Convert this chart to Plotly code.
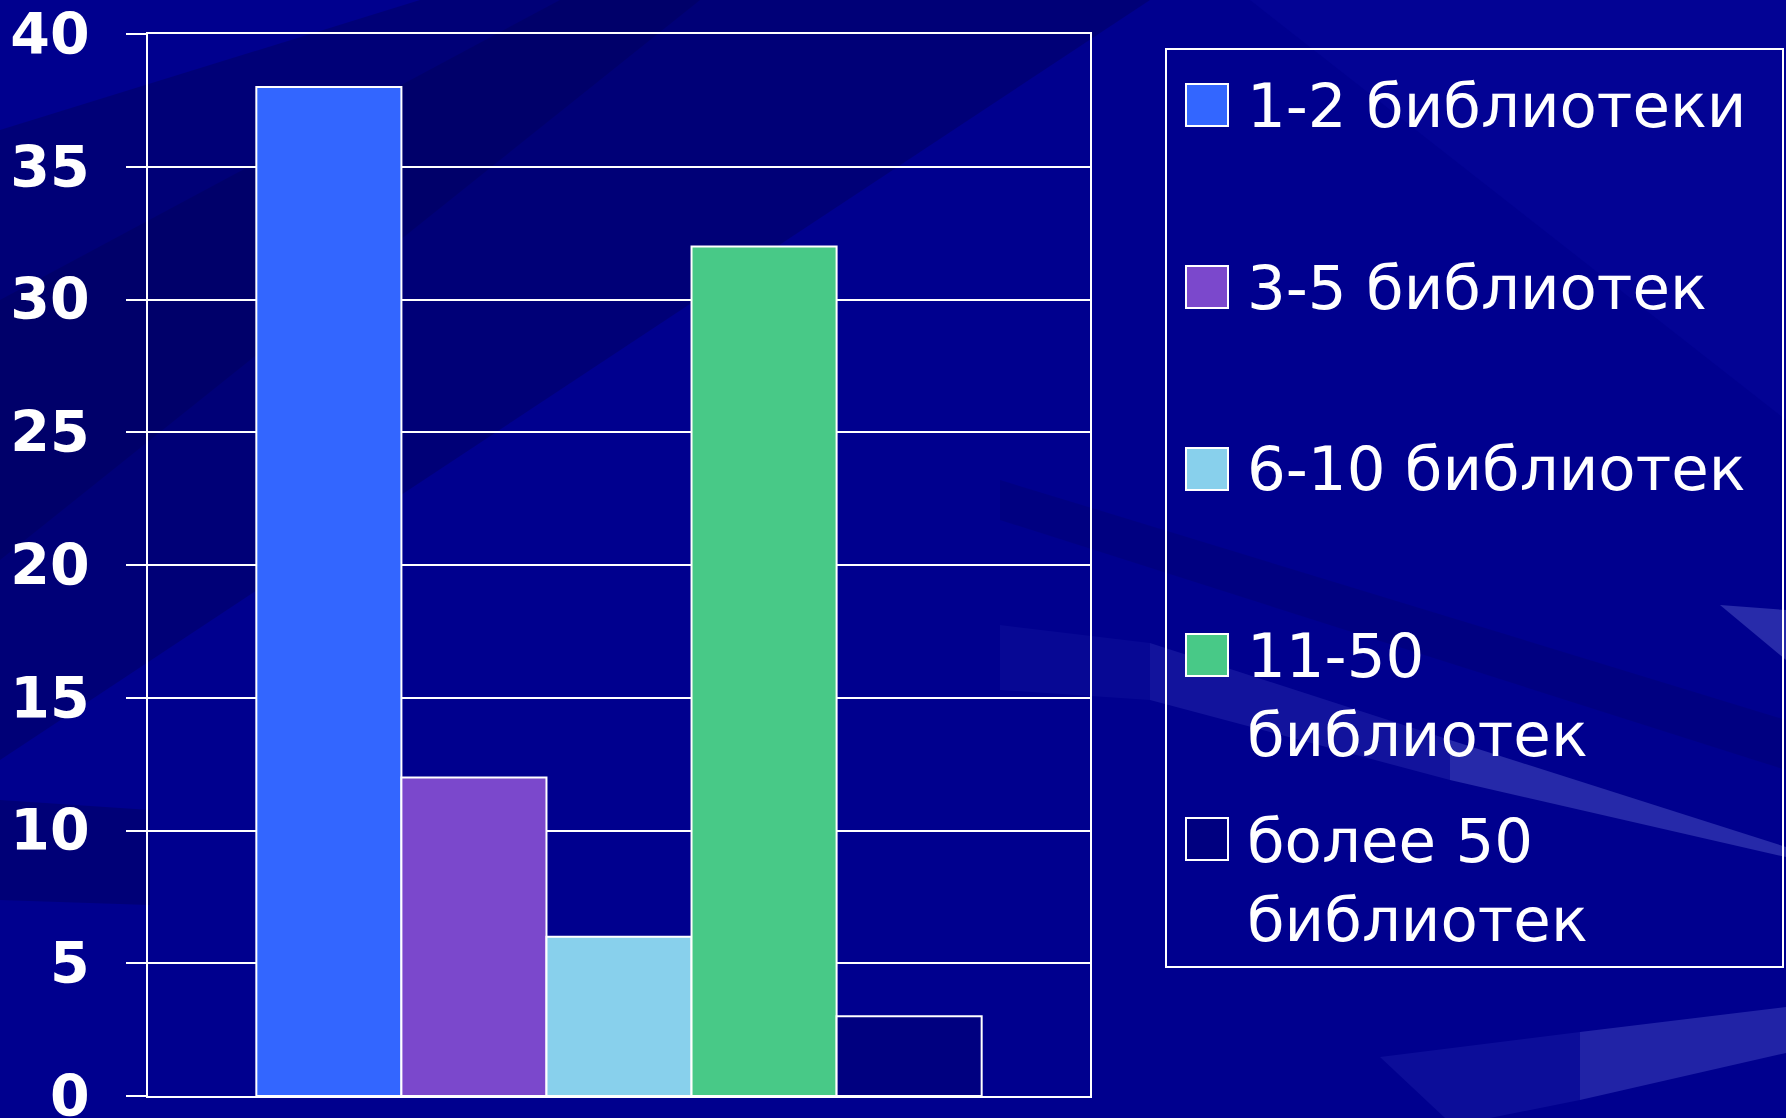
import plotly.graph_objects as go

# ---- data ----
categories = ["1-2 библиотеки", "3-5 библиотек", "6-10 библиотек", "11-50 библиотек", "более 50 библиотек"]
legend_labels = ["1-2 библиотеки", "3-5 библиотек", "6-10 библиотек", "11-50<br>библиотек", "более 50<br>библиотек"]
values = [38, 12, 6, 32, 3]
colors = ["#3366FF", "#7B48CC", "#88D0EC", "#48C987", "#000080"]
y_ticks = [0, 5, 10, 15, 20, 25, 30, 35, 40]

W, H = 1786, 1118
L, R, T, B = 148, 1090, 34, 1096  # plot area in pixels

def px(x):
    return (x - L) / (R - L)

def py(y):
    return (B - y) / (B - T)

fig = go.Figure()
for name, v, c in zip(categories, values, colors):
    fig.add_trace(go.Bar(
        x=["g"], y=[v], name=name, marker=dict(color=c, line=dict(color="white", width=2)),
        showlegend=False,
    ))

shapes = []
def poly(pts, color):
    path = "M " + " L ".join(f"{px(x)},{py(y)}" for x, y in pts) + " Z"
    return dict(type="path", path=path, xref="paper", yref="paper", fillcolor=color,
                line=dict(width=0), layer="below")

# subtle background bands
shapes += [
    poly([(0, 130), (0, 760), (1150, 0), (420, 0)], "rgba(0,0,60,0.28)"),
    poly([(0, 300), (0, 560), (700, 0), (560, 0)], "rgba(0,0,50,0.18)"),
    poly([(0, 800), (0, 900), (150, 905), (150, 810)], "rgba(0,0,50,0.25)"),
    poly([(1786, 0), (1786, 420), (1250, 0)], "rgba(20,20,190,0.15)"),
    poly([(1000, 480), (1786, 720), (1786, 770), (1000, 520)], "rgba(0,0,60,0.15)"),
    poly([(1000, 625), (1150, 643), (1150, 700), (1000, 690)], "rgba(120,130,255,0.06)"),
    poly([(1150, 643), (1450, 740), (1450, 780), (1150, 700)], "rgba(140,150,255,0.13)"),
    poly([(1450, 740), (1786, 847), (1786, 857), (1450, 780)], "rgba(160,170,255,0.24)"),
    poly([(1720, 605), (1786, 610), (1786, 660)], "rgba(160,170,255,0.25)"),
    poly([(1380, 1057), (1580, 1032), (1580, 1100), (1490, 1118), (1445, 1118)], "rgba(120,130,255,0.10)"),
    poly([(1580, 1032), (1786, 1007), (1786, 1053), (1580, 1100)], "rgba(150,160,255,0.22)"),
]

# legend box
shapes.append(dict(type="rect", xref="paper", yref="paper",
                   x0=px(1166), x1=px(1783), y0=py(967), y1=py(49),
                   line=dict(color="white", width=2), fillcolor="rgba(0,0,0,0)"))

annotations = []
legend_first_line_y = [105, 287, 469, 655, 839]
legend_center_y = [105, 287, 469, 695, 880]
for lab, c, y1, yc in zip(legend_labels, colors, legend_first_line_y, legend_center_y):
    shapes.append(dict(type="rect", xref="paper", yref="paper",
                       x0=px(1186), x1=px(1228), y0=py(y1 + 21), y1=py(y1 - 21),
                       fillcolor=c, line=dict(color="white", width=2)))
    annotations.append(dict(text=lab, xref="paper", yref="paper", x=px(1245), y=py(yc),
                            xanchor="left", yanchor="middle", showarrow=False, align="left",
                            font=dict(family="DejaVu Sans", size=61, color="white")))

fig.update_layout(
    width=W, height=H,
    margin=dict(l=L, r=W - R, t=T, b=H - B, pad=0, autoexpand=False),
    paper_bgcolor="#00008E",
    plot_bgcolor="rgba(0,0,0,0)",
    barmode="group",
    bargap=0.23,
    bargroupgap=0,
    shapes=shapes,
    annotations=annotations,
    showlegend=False,
)
fig.update_xaxes(showticklabels=False, showgrid=False, showline=True, mirror=True,
                 linecolor="white", linewidth=2, ticks="", zeroline=False, fixedrange=True,
                 automargin=False)
fig.update_yaxes(range=[0, 40], tickvals=y_ticks, showgrid=True, gridcolor="white", gridwidth=2,
                 showline=True, mirror=True, linecolor="white", linewidth=2,
                 ticks="outside", ticklen=20, tickcolor="white", tickwidth=2,
                 ticklabelstandoff=25, zeroline=False, ticklabeloverflow="allow",
                 automargin=False,
                 tickfont=dict(family="DejaVu Sans", size=57, color="white", weight="bold"))

fig.write_html("out.html", config={"displayModeBar": False},
               post_script="document.body.style.margin='0';document.body.style.overflow='hidden';")
